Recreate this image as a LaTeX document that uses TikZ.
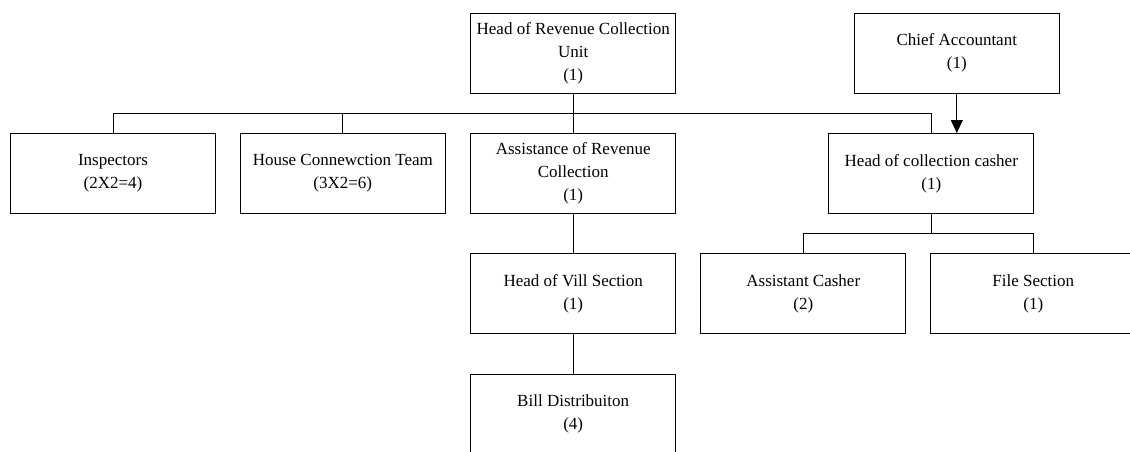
\documentclass[tikz,border=0pt]{standalone}
\usepackage{fontspec}
\setmainfont{Liberation Serif}
\usetikzlibrary{arrows.meta}

\begin{document}
\begin{tikzpicture}[x=1pt,y=-1pt,line width=0.9pt,
                    post/.style={draw=black,line width=1pt,minimum width=205pt,minimum height=80pt,
                                 inner sep=0pt,align=center,font=\fontsize{17}{23}\selectfont}]
    \path[use as bounding box,clip] (0,0) rectangle (1130,451);
    \node (head)   at (573.2,53.3)  [post] {Head of Revenue Collection\\Unit\\(1)};
    \node (chief)  at (956.8,53.3)  [post] {Chief Accountant\\(1)};
    \node (insp)   at (113,173.5)   [post] {Inspectors\\(2X2=4)};
    \node (house)  at (342.8,173.5) [post] {House Connewction Team\\(3X2=6)};
    \node (assist) at (573.2,173.5) [post] {Assistance of Revenue\\Collection\\(1)};
    \node (casher) at (931.3,173.5) [post] {Head of collection casher\\(1)};
    \node (vill)   at (573.2,293.8) [post] {Head of Vill Section\\(1)};
    \node (acash)  at (803.3,293.8) [post] {Assistant Casher\\(2)};
    \node (file)   at (1033.3,293.8) [post] {File Section\\(1)};
    \node (bill)   at (573.2,414.3) [post] {Bill Distribuiton\\(4)};
    \coordinate (bus)  at (573.2,113.3);
    \coordinate (cbus) at (931.3,233.8);
    \draw (head) -- (assist);
    \draw (insp.north) |- (bus) -| (casher.north);
    \draw (house.north) |- (bus);
    \draw [-{Triangle[length=13pt,width=12pt]}] (chief.south) -- (chief.south |- casher.north);
    \draw (casher) -- (cbus);
    \draw (acash.north) |- (cbus) -| (file.north);
    \draw (assist) -- (vill);
    \draw (vill) -- (bill);
\end{tikzpicture}
\end{document}
